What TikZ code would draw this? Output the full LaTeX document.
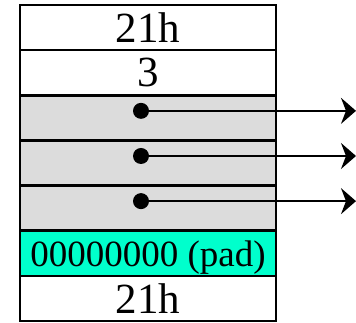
\documentclass[tikz,border=0pt]{standalone}
\usepackage{fontspec}
\setmainfont{Liberation Serif}
\usetikzlibrary{positioning, arrows.meta}
\definecolor{cellgray}{HTML}{DCDCDC}
\definecolor{padcyan}{HTML}{00FFCC}
\tikzset{
  cellbox/.style={
    rectangle, draw=black, line width=2.5pt, fill=white,
    minimum width=256pt, minimum height=45.14pt, inner sep=0pt,
    outer sep=0pt, text depth=0pt, font=\fontsize{43}{43}\selectfont
  },
  ptrcell/.style={cellbox, fill=cellgray},
  padcell/.style={cellbox, fill=padcyan, font=\fontsize{37}{37}\selectfont},
  ptrdot/.style={circle, fill=black, inner sep=0pt, minimum size=16pt},
  ptrarrow/.style={-{Stealth[length=15pt, width=26pt, inset=5pt]}, line width=1.8pt}
}

\begin{document}
\begin{tikzpicture}[node distance=0pt]
\useasboundingbox (0,0) rectangle (356pt,322pt);

\node[cellbox, anchor=north west] (hdr) at (20pt,317pt) {21h};
\node[cellbox, below=of hdr] (cnt) {3};
\node[ptrcell, below=of cnt] (ptra) {};
\node[ptrcell, below=of ptra] (ptrb) {};
\node[ptrcell, below=of ptrb] (ptrc) {};
\node[padcell, below=of ptrc] (pad) {00000000 (pad)};
\node[cellbox, below=of pad] (trl) {21h};

% pointers leaving the cells
\foreach \p in {ptra, ptrb, ptrc} {
  \node[ptrdot] (dot\p) at ([xshift=-7pt, yshift=7pt]\p.center) {};
  \path (dot\p) ++(215pt,0) coordinate (end\p);
  \draw[ptrarrow] (dot\p) -- (end\p);
}
\end{tikzpicture}
\end{document}
